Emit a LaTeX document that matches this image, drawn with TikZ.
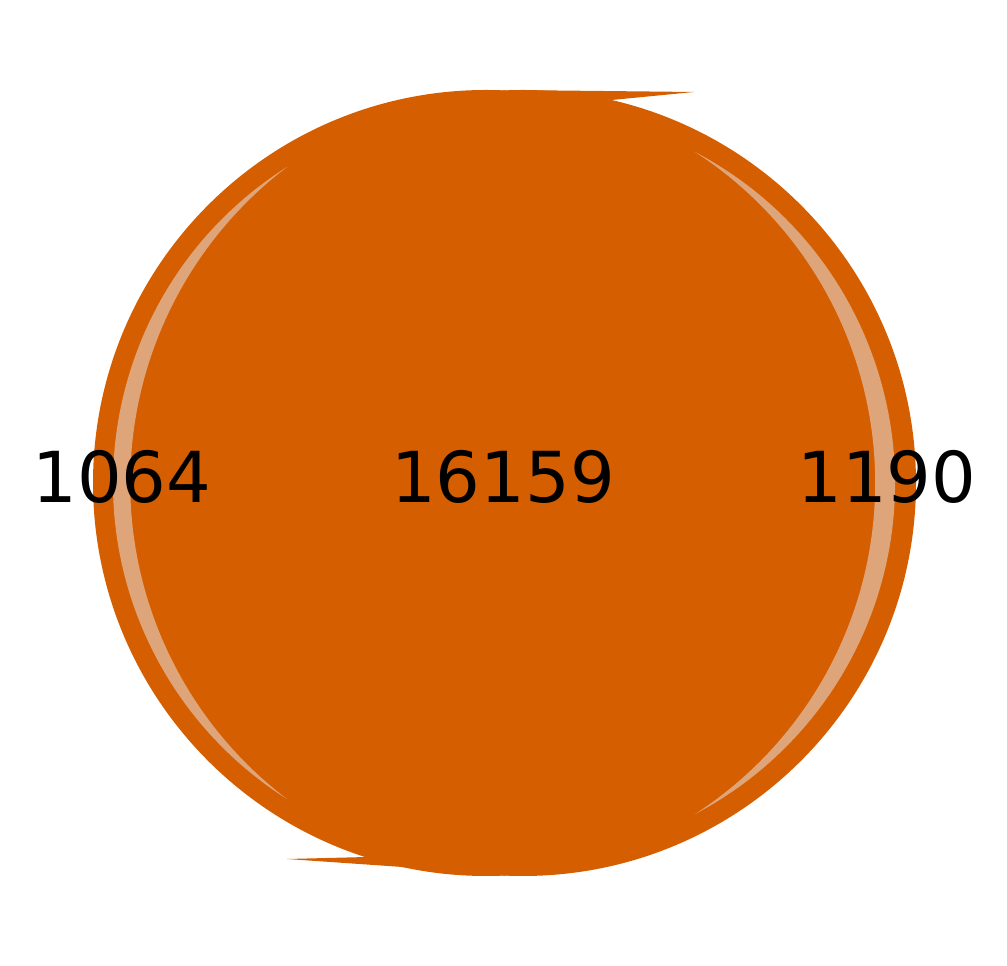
\documentclass[tikz,border=0pt]{standalone}
\usepackage{fontspec}
\setmainfont{DejaVu Sans}
\usepackage{xcolor}
\definecolor{vermilion}{HTML}{D55E00}
\definecolor{lightverm}{HTML}{DFA57A}
\usepackage{tikz}

\tikzset{
  count/.style={anchor=base, inner sep=0pt, font=\fontsize{40}{48}\selectfont}
}

\begin{document}
\begin{tikzpicture}[x=0.02cm, y=0.02cm]
  \useasboundingbox (0,0) rectangle (1007,966);
  % circle centres
  \coordinate (cA) at (486,483);
  \coordinate (cB) at (523,483);
  % union of both sets, with the stray tips at top and bottom
  \fill[vermilion] (cA) circle (393);
  \fill[vermilion] (cB) circle (393);
  \fill[vermilion] (510,876) -- (694,874) -- (612,866) -- (560,870) -- cycle;
  \fill[vermilion] (287,107) -- (367,109) -- (490,104) -- (480,90) -- (417,98) -- cycle;
  % left-only crescent
  \fill[lightverm] (287,799) arc[start angle=122.33, end angle=237.67, radius=374]
    arc[start angle=232.78, end angle=127.22, radius=396.8] -- cycle;
  % right-only crescent
  \fill[lightverm] (695,814) arc[start angle=62.27, end angle=-62.27, radius=374]
    arc[start angle=-57.12, end angle=57.12, radius=394.2] -- cycle;
  % counts
  \node[count] (onlyA) at (122,463) {1064};
  \node[count] (both) at (503,463) {16159};
  \node[count] (onlyB) at (887,463) {1190};
\end{tikzpicture}
\end{document}
